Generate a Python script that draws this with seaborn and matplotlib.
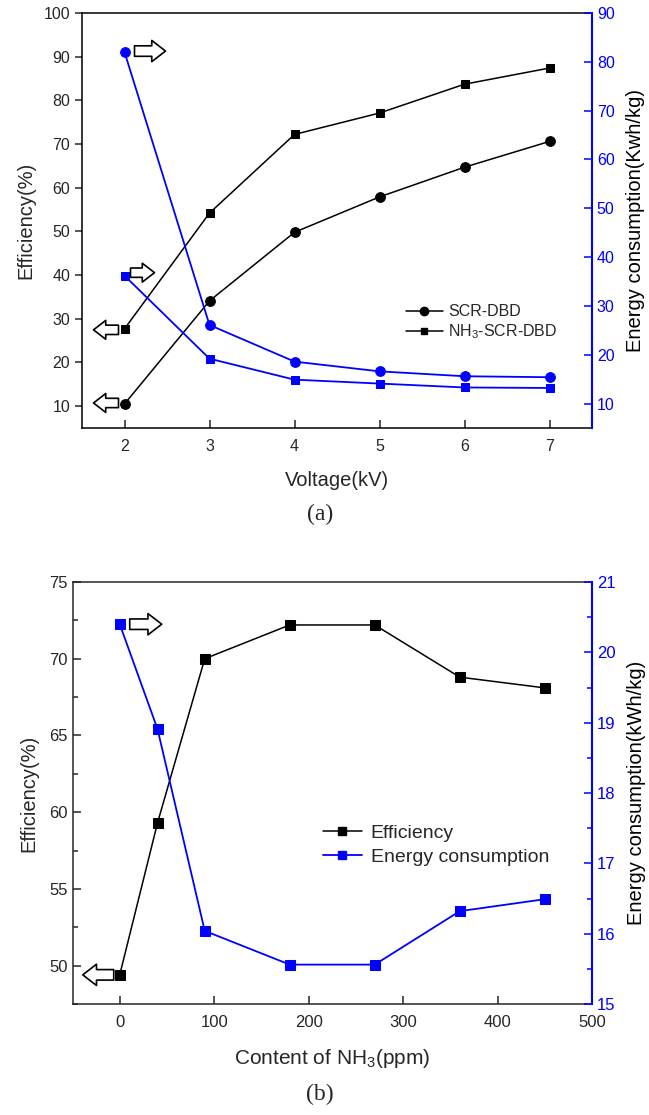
import matplotlib
matplotlib.use("Agg")
import matplotlib.pyplot as plt
import matplotlib.transforms as mtransforms
from matplotlib.lines import Line2D
from matplotlib.ticker import MultipleLocator
import seaborn as sns

# ---------------- data ----------------
voltage = [2, 3, 4, 5, 6, 7]
eff_scr = [10.5, 34.1, 49.8, 57.9, 64.7, 70.6]
eff_nh3 = [27.7, 54.2, 72.2, 77.1, 83.7, 87.4]
energy_scr = [82.0, 26.1, 18.6, 16.6, 15.6, 15.4]
energy_nh3 = [36.2, 19.2, 14.9, 14.1, 13.3, 13.2]

nh3_content = [0, 40, 90, 180, 270, 360, 450]
eff_b = [49.4, 59.3, 70.0, 72.2, 72.2, 68.8, 68.1]
energy_b = [20.4, 18.91, 16.04, 15.56, 15.56, 16.32, 16.49]

top_left_ticks = [10, 20, 30, 40, 50, 60, 70, 80, 90, 100]
top_right_ticks = [10, 20, 30, 40, 50, 60, 70, 80, 90]
bot_left_ticks = [50, 55, 60, 65, 70, 75]
bot_right_ticks = [15, 16, 17, 18, 19, 20, 21]
bot_x_ticks = [0, 100, 200, 300, 400, 500]

BLUE = "#0000FF"

sns.set_style("ticks")
plt.rcParams["font.family"] = ["Liberation Sans", "DejaVu Sans"]
plt.rcParams["mathtext.default"] = "regular"
plt.rcParams["axes.linewidth"] = 1.1

W, H = 649, 1115
fig = plt.figure(figsize=(W / 100, H / 100), dpi=100)


def rect(l, t, r, b):
    return [l / W, 1 - b / H, (r - l) / W, (b - t) / H]


def block_arrow(ax, trans, x, y, start, end, dy=0, hw=0.85, tw=0.42, hl=0.55, ms=18):
    """hollow block arrow near a data point; start/end are pixel offsets"""
    tail = mtransforms.offset_copy(trans, fig=fig, x=start, y=dy, units="dots")
    head = mtransforms.offset_copy(trans, fig=fig, x=end, y=dy, units="dots")
    ax.annotate("", xy=(x, y), xycoords=head, xytext=(x, y), textcoords=tail,
                arrowprops=dict(arrowstyle=f"simple,head_length={hl},head_width={hw},tail_width={tw}",
                                fc="white", ec="black", lw=1.2, shrinkA=0, shrinkB=0,
                                mutation_scale=ms),
                annotation_clip=False, zorder=5)


# ================= panel (a) =================
ax1 = fig.add_axes(rect(82, 13, 592, 428))
ax1r = ax1.twinx()

sns.lineplot(x=voltage, y=eff_scr, ax=ax1, color="black", marker="o", markersize=7,
             markeredgecolor="black", lw=1.1)
sns.lineplot(x=voltage, y=eff_nh3, ax=ax1, color="black", marker="s", markersize=6,
             markeredgecolor="black", lw=1.1)
sns.lineplot(x=voltage, y=energy_scr, ax=ax1r, color=BLUE, marker="o", markersize=7,
             markeredgecolor=BLUE, lw=1.3)
sns.lineplot(x=voltage, y=energy_nh3, ax=ax1r, color=BLUE, marker="s", markersize=6,
             markeredgecolor=BLUE, lw=1.3)

ax1.set_xlim(1.5, 7.5)
ax1.set_ylim(5, 100)
ax1r.set_ylim(5, 90)
ax1.set_xticks(voltage)
ax1.set_yticks(top_left_ticks)
ax1r.set_yticks(top_right_ticks)
ax1.tick_params(axis="x", direction="in", length=6, width=1.1, labelsize=11.5, pad=8)
ax1.tick_params(axis="y", direction="out", length=5, width=1.1, labelsize=11.5)
ax1r.tick_params(axis="y", direction="in", length=6, width=1.1, labelsize=11.5,
                 colors=BLUE, labelcolor=BLUE)
ax1r.spines["right"].set_color(BLUE)
ax1r.spines["right"].set_linewidth(1.5)
for s in ["left", "top", "bottom"]:
    ax1r.spines[s].set_visible(False)
    ax1.spines[s].set_color("black")
ax1.spines["right"].set_visible(False)

ax1.set_xlabel("Voltage(kV)", fontsize=14.5, labelpad=12)
ax1.set_ylabel("Efficiency(%)", fontsize=14.5, labelpad=6)
ax1r.set_ylabel("Energy consumption(Kwh/kg)", fontsize=14.5, labelpad=8, color="black")

ax1.legend(handles=[
    Line2D([], [], color="black", marker="o", markersize=6, lw=1.1),
    Line2D([], [], color="black", marker="s", markersize=5, lw=1.1)],
    labels=["SCR-DBD", "NH$_3$-SCR-DBD"], loc="upper left",
    bbox_to_anchor=(0.635, 0.298), frameon=False, fontsize=11.5,
    handlelength=2.3, handletextpad=0.35, labelspacing=0.2,
    borderpad=0, borderaxespad=0)

# arrows (a)
block_arrow(ax1r, ax1r.transData, voltage[0], energy_scr[0], 10, 41, dy=1)
block_arrow(ax1r, ax1r.transData, voltage[0], energy_nh3[0], 6, 30, dy=3, ms=16)
block_arrow(ax1, ax1.transData, voltage[0], eff_nh3[0], -6, -31, dy=-1, ms=16)
block_arrow(ax1, ax1.transData, voltage[0], eff_scr[0], -6, -31, dy=1, ms=16)

fig.text(320 / W, 1 - 514 / H, "(a)", ha="center", va="center", fontsize=17,
         family=["Liberation Serif", "DejaVu Serif"])

# ================= panel (b) =================
ax2 = fig.add_axes(rect(72.5, 582, 592, 1004))
ax2r = ax2.twinx()

sns.lineplot(x=nh3_content, y=eff_b, ax=ax2, color="black", marker="s", markersize=6.5,
             markeredgecolor="black", lw=1.1)
sns.lineplot(x=nh3_content, y=energy_b, ax=ax2r, color=BLUE, marker="s", markersize=6.5,
             markeredgecolor=BLUE, lw=1.3)

ax2.set_xlim(-50, 500)
ax2.set_ylim(47.5, 75)
ax2r.set_ylim(15, 21)
ax2.set_xticks(bot_x_ticks)
ax2.set_yticks(bot_left_ticks)
ax2.yaxis.set_minor_locator(MultipleLocator(2.5))
ax2r.set_yticks(bot_right_ticks)
ax2r.yaxis.set_minor_locator(MultipleLocator(0.5))
ax2.tick_params(axis="x", direction="in", length=6, width=1.1, labelsize=12, pad=8)
ax2.tick_params(axis="y", which="major", direction="in", length=6, width=1.1, labelsize=12)
ax2.tick_params(axis="y", which="minor", direction="in", length=3.5, width=1.1)
ax2r.tick_params(axis="y", which="major", direction="in", length=6, width=1.1,
                 labelsize=12, colors=BLUE, labelcolor=BLUE)
ax2r.tick_params(axis="y", which="minor", direction="in", length=3.5, width=1.1, colors=BLUE)
ax2r.spines["right"].set_color(BLUE)
ax2r.spines["right"].set_linewidth(1.5)
for s in ["left", "top", "bottom"]:
    ax2r.spines[s].set_visible(False)
ax2.spines["right"].set_visible(False)

ax2.set_xlabel("Content of NH$_3$(ppm)", fontsize=15, labelpad=12)
ax2.set_ylabel("Efficiency(%)", fontsize=14.5, labelpad=8)
ax2r.set_ylabel("Energy consumption(kWh/kg)", fontsize=14.5, labelpad=8, color="black")

ax2.legend(handles=[
    Line2D([], [], color="black", marker="s", markersize=6, lw=1.1),
    Line2D([], [], color=BLUE, marker="s", markersize=6, lw=1.3)],
    labels=["Efficiency", "Energy consumption"], loc="upper left",
    bbox_to_anchor=(0.482, 0.425), frameon=False, fontsize=14,
    handlelength=2.0, handletextpad=0.45, labelspacing=0.3,
    borderpad=0, borderaxespad=0)

block_arrow(ax2r, ax2r.transData, nh3_content[0], energy_b[0], 10, 42, dy=0)
block_arrow(ax2, ax2.transData, nh3_content[0], eff_b[0], -6, -37, dy=0)

fig.text(320 / W, 1 - 1094 / H, "(b)", ha="center", va="center", fontsize=17,
         family=["Liberation Serif", "DejaVu Serif"])

fig.savefig("out.png", dpi=100)
